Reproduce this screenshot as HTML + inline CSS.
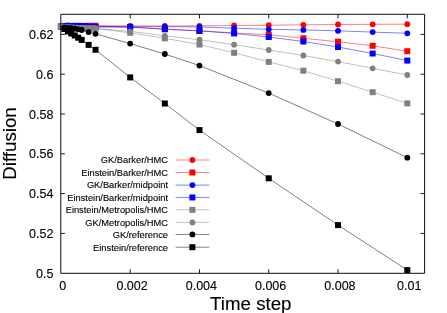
<!DOCTYPE html>
<html><head><meta charset="utf-8"><title>Diffusion vs time step</title>
<style>html,body{margin:0;padding:0;background:#fff}svg{display:block;will-change:transform;opacity:0.999}text{font-family:"Liberation Sans",sans-serif;fill:#000;stroke:#000;stroke-width:0.12px}</style></head><body>
<svg width="447" height="313" viewBox="0 0 447 313">
<rect width="447" height="313" fill="#fff"/>
<path d="M60.8 233.40h4.1M424.6 233.40h-4.1M60.8 193.60h4.1M424.6 193.60h-4.1M60.8 153.80h4.1M424.6 153.80h-4.1M60.8 114.00h4.1M424.6 114.00h-4.1M60.8 74.20h4.1M424.6 74.20h-4.1M60.8 34.40h4.1M424.6 34.40h-4.1M130.18 273.3v-4.1M130.18 14.3v4.1M199.46 273.3v-4.1M199.46 14.3v4.1M268.74 273.3v-4.1M268.74 14.3v4.1M338.02 273.3v-4.1M338.02 14.3v4.1M407.30 273.3v-4.1M407.30 14.3v4.1" stroke="#000" stroke-width="0.9" fill="none"/>
<text x="53.4" y="277.80" font-size="12.5" text-anchor="end">0.5</text>
<text x="53.4" y="238.00" font-size="12.5" text-anchor="end">0.52</text>
<text x="53.4" y="198.20" font-size="12.5" text-anchor="end">0.54</text>
<text x="53.4" y="158.40" font-size="12.5" text-anchor="end">0.56</text>
<text x="53.4" y="118.60" font-size="12.5" text-anchor="end">0.58</text>
<text x="53.4" y="78.80" font-size="12.5" text-anchor="end">0.6</text>
<text x="53.4" y="39.00" font-size="12.5" text-anchor="end">0.62</text>
<text x="62.80" y="290.1" font-size="12.5" text-anchor="middle">0</text>
<text x="132.08" y="290.1" font-size="12.5" text-anchor="middle">0.002</text>
<text x="201.36" y="290.1" font-size="12.5" text-anchor="middle">0.004</text>
<text x="270.64" y="290.1" font-size="12.5" text-anchor="middle">0.006</text>
<text x="339.92" y="290.1" font-size="12.5" text-anchor="middle">0.008</text>
<text x="409.20" y="290.1" font-size="12.5" text-anchor="middle">0.01</text>
<text x="250.8" y="310.3" font-size="18.7" text-anchor="middle">Time step</text>
<text transform="translate(16.3,143.5) rotate(-90)" font-size="18.7" text-anchor="middle">Diffusion</text>
<g><text x="168" y="163.30" font-size="9.3" text-anchor="end">GK/Barker/HMC</text>
<path d="M175.6 160.00H209.4" stroke="#ff0000" stroke-width="0.5" fill="none"/>
<circle cx="192.40" cy="160.00" r="2.9" fill="#ff0000"/>
<path d="M60.90 26.60L64.36 26.30L67.83 25.30L71.29 26.20L74.76 26.30L78.22 26.30L81.68 26.30L85.15 26.30L88.61 26.20L92.08 26.20L95.54 25.90L130.18 25.80L164.82 26.00L199.46 25.80L234.10 25.50L268.74 25.20L303.38 24.80L338.02 24.50L372.66 24.30L407.30 24.20" stroke="#ff0000" stroke-width="0.5" fill="none"/>
<circle cx="60.90" cy="26.60" r="2.9" fill="#ff0000"/>
<circle cx="64.36" cy="26.30" r="2.9" fill="#ff0000"/>
<circle cx="67.83" cy="25.30" r="2.9" fill="#ff0000"/>
<circle cx="71.29" cy="26.20" r="2.9" fill="#ff0000"/>
<circle cx="74.76" cy="26.30" r="2.9" fill="#ff0000"/>
<circle cx="78.22" cy="26.30" r="2.9" fill="#ff0000"/>
<circle cx="81.68" cy="26.30" r="2.9" fill="#ff0000"/>
<circle cx="85.15" cy="26.30" r="2.9" fill="#ff0000"/>
<circle cx="88.61" cy="26.20" r="2.9" fill="#ff0000"/>
<circle cx="92.08" cy="26.20" r="2.9" fill="#ff0000"/>
<circle cx="95.54" cy="25.90" r="2.9" fill="#ff0000"/>
<circle cx="130.18" cy="25.80" r="2.9" fill="#ff0000"/>
<circle cx="164.82" cy="26.00" r="2.9" fill="#ff0000"/>
<circle cx="199.46" cy="25.80" r="2.9" fill="#ff0000"/>
<circle cx="234.10" cy="25.50" r="2.9" fill="#ff0000"/>
<circle cx="268.74" cy="25.20" r="2.9" fill="#ff0000"/>
<circle cx="303.38" cy="24.80" r="2.9" fill="#ff0000"/>
<circle cx="338.02" cy="24.50" r="2.9" fill="#ff0000"/>
<circle cx="372.66" cy="24.30" r="2.9" fill="#ff0000"/>
<circle cx="407.30" cy="24.20" r="2.9" fill="#ff0000"/>
</g>
<g><text x="168" y="175.80" font-size="9.3" text-anchor="end">Einstein/Barker/HMC</text>
<path d="M175.6 172.50H209.4" stroke="#ff0000" stroke-width="0.5" fill="none"/>
<rect x="189.40" y="169.50" width="6.0" height="6.0" fill="#ff0000"/>
<path d="M60.90 26.60L64.36 26.40L67.83 26.40L71.29 26.40L74.76 26.30L78.22 26.30L81.68 26.30L85.15 26.20L88.61 25.80L92.08 25.80L95.54 25.80L130.18 27.30L164.82 29.00L199.46 30.80L234.10 33.00L268.74 34.70L303.38 38.30L338.02 41.70L372.66 45.80L407.30 51.20" stroke="#ff0000" stroke-width="0.5" fill="none"/>
<rect x="57.90" y="23.60" width="6.0" height="6.0" fill="#ff0000"/>
<rect x="61.36" y="23.40" width="6.0" height="6.0" fill="#ff0000"/>
<rect x="64.83" y="23.40" width="6.0" height="6.0" fill="#ff0000"/>
<rect x="68.29" y="23.40" width="6.0" height="6.0" fill="#ff0000"/>
<rect x="71.76" y="23.30" width="6.0" height="6.0" fill="#ff0000"/>
<rect x="75.22" y="23.30" width="6.0" height="6.0" fill="#ff0000"/>
<rect x="78.68" y="23.30" width="6.0" height="6.0" fill="#ff0000"/>
<rect x="82.15" y="23.20" width="6.0" height="6.0" fill="#ff0000"/>
<rect x="85.61" y="22.80" width="6.0" height="6.0" fill="#ff0000"/>
<rect x="89.08" y="22.80" width="6.0" height="6.0" fill="#ff0000"/>
<rect x="92.54" y="22.80" width="6.0" height="6.0" fill="#ff0000"/>
<rect x="127.18" y="24.30" width="6.0" height="6.0" fill="#ff0000"/>
<rect x="161.82" y="26.00" width="6.0" height="6.0" fill="#ff0000"/>
<rect x="196.46" y="27.80" width="6.0" height="6.0" fill="#ff0000"/>
<rect x="231.10" y="30.00" width="6.0" height="6.0" fill="#ff0000"/>
<rect x="265.74" y="31.70" width="6.0" height="6.0" fill="#ff0000"/>
<rect x="300.38" y="35.30" width="6.0" height="6.0" fill="#ff0000"/>
<rect x="335.02" y="38.70" width="6.0" height="6.0" fill="#ff0000"/>
<rect x="369.66" y="42.80" width="6.0" height="6.0" fill="#ff0000"/>
<rect x="404.30" y="48.20" width="6.0" height="6.0" fill="#ff0000"/>
</g>
<g><text x="168" y="188.40" font-size="9.3" text-anchor="end">GK/Barker/midpoint</text>
<path d="M175.6 185.10H209.4" stroke="#0000ff" stroke-width="0.5" fill="none"/>
<circle cx="192.40" cy="185.10" r="2.9" fill="#0000ff"/>
<path d="M60.90 26.60L64.36 26.20L67.83 26.20L71.29 26.20L74.76 26.20L78.22 26.30L81.68 26.30L85.15 26.40L88.61 26.60L92.08 26.70L95.54 26.70L130.18 26.70L164.82 26.70L199.46 26.90L234.10 28.20L268.74 29.30L303.38 29.90L338.02 30.80L372.66 32.10L407.30 33.30" stroke="#0000ff" stroke-width="0.5" fill="none"/>
<circle cx="60.90" cy="26.60" r="2.9" fill="#0000ff"/>
<circle cx="64.36" cy="26.20" r="2.9" fill="#0000ff"/>
<circle cx="67.83" cy="26.20" r="2.9" fill="#0000ff"/>
<circle cx="71.29" cy="26.20" r="2.9" fill="#0000ff"/>
<circle cx="74.76" cy="26.20" r="2.9" fill="#0000ff"/>
<circle cx="78.22" cy="26.30" r="2.9" fill="#0000ff"/>
<circle cx="81.68" cy="26.30" r="2.9" fill="#0000ff"/>
<circle cx="85.15" cy="26.40" r="2.9" fill="#0000ff"/>
<circle cx="88.61" cy="26.60" r="2.9" fill="#0000ff"/>
<circle cx="92.08" cy="26.70" r="2.9" fill="#0000ff"/>
<circle cx="95.54" cy="26.70" r="2.9" fill="#0000ff"/>
<circle cx="130.18" cy="26.70" r="2.9" fill="#0000ff"/>
<circle cx="164.82" cy="26.70" r="2.9" fill="#0000ff"/>
<circle cx="199.46" cy="26.90" r="2.9" fill="#0000ff"/>
<circle cx="234.10" cy="28.20" r="2.9" fill="#0000ff"/>
<circle cx="268.74" cy="29.30" r="2.9" fill="#0000ff"/>
<circle cx="303.38" cy="29.90" r="2.9" fill="#0000ff"/>
<circle cx="338.02" cy="30.80" r="2.9" fill="#0000ff"/>
<circle cx="372.66" cy="32.10" r="2.9" fill="#0000ff"/>
<circle cx="407.30" cy="33.30" r="2.9" fill="#0000ff"/>
</g>
<g><text x="168" y="200.75" font-size="9.3" text-anchor="end">Einstein/Barker/midpoint</text>
<path d="M175.6 197.45H209.4" stroke="#0000ff" stroke-width="0.5" fill="none"/>
<rect x="189.40" y="194.45" width="6.0" height="6.0" fill="#0000ff"/>
<path d="M60.90 26.60L64.36 25.90L67.83 25.90L71.29 25.90L74.76 25.90L78.22 25.90L81.68 25.90L85.15 26.00L88.61 26.70L92.08 26.80L95.54 26.90L130.18 26.90L164.82 29.30L199.46 30.90L234.10 33.40L268.74 37.00L303.38 41.50L338.02 47.00L372.66 53.50L407.30 60.60" stroke="#0000ff" stroke-width="0.5" fill="none"/>
<rect x="57.90" y="23.60" width="6.0" height="6.0" fill="#0000ff"/>
<rect x="61.36" y="22.90" width="6.0" height="6.0" fill="#0000ff"/>
<rect x="64.83" y="22.90" width="6.0" height="6.0" fill="#0000ff"/>
<rect x="68.29" y="22.90" width="6.0" height="6.0" fill="#0000ff"/>
<rect x="71.76" y="22.90" width="6.0" height="6.0" fill="#0000ff"/>
<rect x="75.22" y="22.90" width="6.0" height="6.0" fill="#0000ff"/>
<rect x="78.68" y="22.90" width="6.0" height="6.0" fill="#0000ff"/>
<rect x="82.15" y="23.00" width="6.0" height="6.0" fill="#0000ff"/>
<rect x="85.61" y="23.70" width="6.0" height="6.0" fill="#0000ff"/>
<rect x="89.08" y="23.80" width="6.0" height="6.0" fill="#0000ff"/>
<rect x="92.54" y="23.90" width="6.0" height="6.0" fill="#0000ff"/>
<rect x="127.18" y="23.90" width="6.0" height="6.0" fill="#0000ff"/>
<rect x="161.82" y="26.30" width="6.0" height="6.0" fill="#0000ff"/>
<rect x="196.46" y="27.90" width="6.0" height="6.0" fill="#0000ff"/>
<rect x="231.10" y="30.40" width="6.0" height="6.0" fill="#0000ff"/>
<rect x="265.74" y="34.00" width="6.0" height="6.0" fill="#0000ff"/>
<rect x="300.38" y="38.50" width="6.0" height="6.0" fill="#0000ff"/>
<rect x="335.02" y="44.00" width="6.0" height="6.0" fill="#0000ff"/>
<rect x="369.66" y="50.50" width="6.0" height="6.0" fill="#0000ff"/>
<rect x="404.30" y="57.60" width="6.0" height="6.0" fill="#0000ff"/>
</g>
<g><text x="168" y="213.10" font-size="9.3" text-anchor="end">Einstein/Metropolis/HMC</text>
<path d="M175.6 209.80H209.4" stroke="#808080" stroke-width="0.5" fill="none"/>
<rect x="189.40" y="206.80" width="6.0" height="6.0" fill="#808080"/>
<path d="M60.90 26.60L64.36 27.20L67.83 27.50L71.29 27.70L74.76 27.90L78.22 28.00L81.68 28.10L85.15 28.20L88.61 28.30L92.08 28.40L95.54 28.50L130.18 32.80L164.82 38.30L199.46 44.50L234.10 52.80L268.74 61.90L303.38 70.70L338.02 81.20L372.66 92.20L407.30 103.40" stroke="#808080" stroke-width="0.5" fill="none"/>
<rect x="57.90" y="23.60" width="6.0" height="6.0" fill="#808080"/>
<rect x="61.36" y="24.20" width="6.0" height="6.0" fill="#808080"/>
<rect x="64.83" y="24.50" width="6.0" height="6.0" fill="#808080"/>
<rect x="68.29" y="24.70" width="6.0" height="6.0" fill="#808080"/>
<rect x="71.76" y="24.90" width="6.0" height="6.0" fill="#808080"/>
<rect x="75.22" y="25.00" width="6.0" height="6.0" fill="#808080"/>
<rect x="78.68" y="25.10" width="6.0" height="6.0" fill="#808080"/>
<rect x="82.15" y="25.20" width="6.0" height="6.0" fill="#808080"/>
<rect x="85.61" y="25.30" width="6.0" height="6.0" fill="#808080"/>
<rect x="89.08" y="25.40" width="6.0" height="6.0" fill="#808080"/>
<rect x="92.54" y="25.50" width="6.0" height="6.0" fill="#808080"/>
<rect x="127.18" y="29.80" width="6.0" height="6.0" fill="#808080"/>
<rect x="161.82" y="35.30" width="6.0" height="6.0" fill="#808080"/>
<rect x="196.46" y="41.50" width="6.0" height="6.0" fill="#808080"/>
<rect x="231.10" y="49.80" width="6.0" height="6.0" fill="#808080"/>
<rect x="265.74" y="58.90" width="6.0" height="6.0" fill="#808080"/>
<rect x="300.38" y="67.70" width="6.0" height="6.0" fill="#808080"/>
<rect x="335.02" y="78.20" width="6.0" height="6.0" fill="#808080"/>
<rect x="369.66" y="89.20" width="6.0" height="6.0" fill="#808080"/>
<rect x="404.30" y="100.40" width="6.0" height="6.0" fill="#808080"/>
</g>
<g><text x="168" y="225.70" font-size="9.3" text-anchor="end">GK/Metropolis/HMC</text>
<path d="M175.6 222.40H209.4" stroke="#808080" stroke-width="0.5" fill="none"/>
<circle cx="192.40" cy="222.40" r="2.9" fill="#808080"/>
<path d="M60.90 26.60L64.36 27.10L67.83 27.40L71.29 27.60L74.76 27.80L78.22 27.90L81.68 28.00L85.15 28.10L88.61 28.20L92.08 28.30L95.54 28.40L130.18 31.30L164.82 35.80L199.46 39.70L234.10 44.70L268.74 50.00L303.38 55.50L338.02 61.60L372.66 68.30L407.30 75.00" stroke="#808080" stroke-width="0.5" fill="none"/>
<circle cx="60.90" cy="26.60" r="2.9" fill="#808080"/>
<circle cx="64.36" cy="27.10" r="2.9" fill="#808080"/>
<circle cx="67.83" cy="27.40" r="2.9" fill="#808080"/>
<circle cx="71.29" cy="27.60" r="2.9" fill="#808080"/>
<circle cx="74.76" cy="27.80" r="2.9" fill="#808080"/>
<circle cx="78.22" cy="27.90" r="2.9" fill="#808080"/>
<circle cx="81.68" cy="28.00" r="2.9" fill="#808080"/>
<circle cx="85.15" cy="28.10" r="2.9" fill="#808080"/>
<circle cx="88.61" cy="28.20" r="2.9" fill="#808080"/>
<circle cx="92.08" cy="28.30" r="2.9" fill="#808080"/>
<circle cx="95.54" cy="28.40" r="2.9" fill="#808080"/>
<circle cx="130.18" cy="31.30" r="2.9" fill="#808080"/>
<circle cx="164.82" cy="35.80" r="2.9" fill="#808080"/>
<circle cx="199.46" cy="39.70" r="2.9" fill="#808080"/>
<circle cx="234.10" cy="44.70" r="2.9" fill="#808080"/>
<circle cx="268.74" cy="50.00" r="2.9" fill="#808080"/>
<circle cx="303.38" cy="55.50" r="2.9" fill="#808080"/>
<circle cx="338.02" cy="61.60" r="2.9" fill="#808080"/>
<circle cx="372.66" cy="68.30" r="2.9" fill="#808080"/>
<circle cx="407.30" cy="75.00" r="2.9" fill="#808080"/>
</g>
<g><text x="168" y="237.75" font-size="9.3" text-anchor="end">GK/reference</text>
<path d="M175.6 234.45H209.4" stroke="#000000" stroke-width="0.5" fill="none"/>
<circle cx="192.40" cy="234.45" r="2.9" fill="#000000"/>
<path d="M64.36 27.50L67.83 27.80L71.29 28.20L74.76 28.70L78.22 29.30L81.68 30.00L88.61 32.10L95.54 33.80L130.18 43.60L164.82 54.00L199.46 65.60L268.74 93.10L338.02 124.00L407.30 157.70" stroke="#000000" stroke-width="0.5" fill="none"/>
<circle cx="64.36" cy="27.50" r="2.9" fill="#000000"/>
<circle cx="67.83" cy="27.80" r="2.9" fill="#000000"/>
<circle cx="71.29" cy="28.20" r="2.9" fill="#000000"/>
<circle cx="74.76" cy="28.70" r="2.9" fill="#000000"/>
<circle cx="78.22" cy="29.30" r="2.9" fill="#000000"/>
<circle cx="81.68" cy="30.00" r="2.9" fill="#000000"/>
<circle cx="88.61" cy="32.10" r="2.9" fill="#000000"/>
<circle cx="95.54" cy="33.80" r="2.9" fill="#000000"/>
<circle cx="130.18" cy="43.60" r="2.9" fill="#000000"/>
<circle cx="164.82" cy="54.00" r="2.9" fill="#000000"/>
<circle cx="199.46" cy="65.60" r="2.9" fill="#000000"/>
<circle cx="268.74" cy="93.10" r="2.9" fill="#000000"/>
<circle cx="338.02" cy="124.00" r="2.9" fill="#000000"/>
<circle cx="407.30" cy="157.70" r="2.9" fill="#000000"/>
</g>
<g><text x="168" y="250.50" font-size="9.3" text-anchor="end">Einstein/reference</text>
<path d="M175.6 247.20H209.4" stroke="#000000" stroke-width="0.5" fill="none"/>
<rect x="189.40" y="244.20" width="6.0" height="6.0" fill="#000000"/>
<path d="M64.36 29.00L67.83 31.50L71.29 33.50L74.76 35.50L78.22 37.70L81.68 39.90L88.61 44.90L95.54 49.80L130.18 77.40L164.82 103.50L199.46 130.10L268.74 178.30L338.02 225.10L407.30 270.10" stroke="#000000" stroke-width="0.5" fill="none"/>
<rect x="61.36" y="26.00" width="6.0" height="6.0" fill="#000000"/>
<rect x="64.83" y="28.50" width="6.0" height="6.0" fill="#000000"/>
<rect x="68.29" y="30.50" width="6.0" height="6.0" fill="#000000"/>
<rect x="71.76" y="32.50" width="6.0" height="6.0" fill="#000000"/>
<rect x="75.22" y="34.70" width="6.0" height="6.0" fill="#000000"/>
<rect x="78.68" y="36.90" width="6.0" height="6.0" fill="#000000"/>
<rect x="85.61" y="41.90" width="6.0" height="6.0" fill="#000000"/>
<rect x="92.54" y="46.80" width="6.0" height="6.0" fill="#000000"/>
<rect x="127.18" y="74.40" width="6.0" height="6.0" fill="#000000"/>
<rect x="161.82" y="100.50" width="6.0" height="6.0" fill="#000000"/>
<rect x="196.46" y="127.10" width="6.0" height="6.0" fill="#000000"/>
<rect x="265.74" y="175.30" width="6.0" height="6.0" fill="#000000"/>
<rect x="335.02" y="222.10" width="6.0" height="6.0" fill="#000000"/>
<rect x="404.30" y="267.10" width="6.0" height="6.0" fill="#000000"/>
</g>
<rect x="60.8" y="14.3" width="363.80" height="259.00" fill="none" stroke="#000" stroke-width="0.95" stroke-linejoin="round"/>
</svg></body></html>
